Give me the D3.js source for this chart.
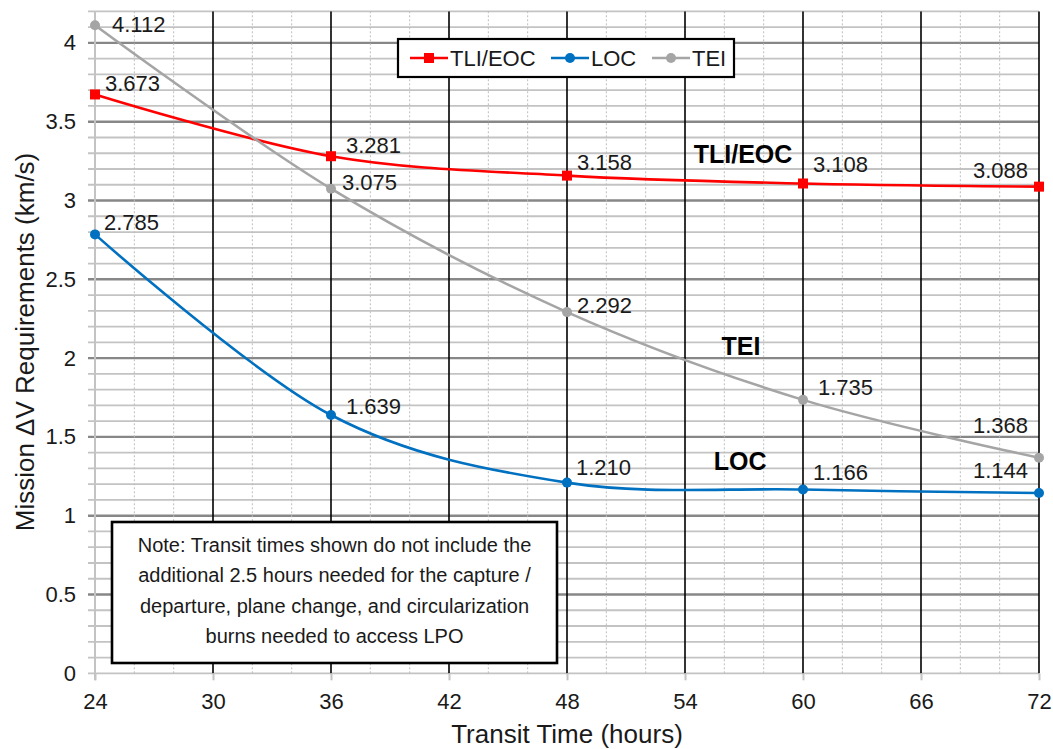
<!DOCTYPE html>
<html>
<head>
<meta charset="utf-8">
<script src="https://cdn.jsdelivr.net/npm/d3@7"></script>
<style>
  body { margin: 0; background: #fff; }
  svg { display: block; font-family: "Liberation Sans", Arial, sans-serif; }
</style>
</head>
<body>
<svg></svg>
<script>
// data
const hours = [24, 36, 48, 60, 72];
const tliEoc = [3.673, 3.281, 3.158, 3.108, 3.088];
const loc = [2.785, 1.639, 1.210, 1.166, 1.144];
const tei = [4.112, 3.075, 2.292, 1.735, 1.368];
const seriesNames = ["TLI/EOC", "LOC", "TEI"];
const xTicks = [24, 30, 36, 42, 48, 54, 60, 66, 72];
const yTicks = [0, 0.5, 1, 1.5, 2, 2.5, 3, 3.5, 4];
const noteLines = [
  "Note: Transit times shown do not include the",
  "additional 2.5 hours needed for the capture /",
  "departure, plane change, and circularization",
  "burns needed to access LPO",
];

const W = 1053, H = 749;
const margin = { top: 11.4, right: 14, bottom: 75.7, left: 95 };

const svg = d3.select("svg").attr("width", W).attr("height", H);

const x = d3.scaleLinear().domain([24, 72]).range([margin.left, W - margin.right]);
const y = d3.scaleLinear().domain([0, 4.2]).range([H - margin.bottom, margin.top]);

const color = d3.scaleOrdinal().domain(seriesNames).range(["#ff0000", "#0070c0", "#a5a5a5"]);

// gridlines
const grid = svg.append("g");
const minorY = d3.range(0, 43).map(function (i) { return i / 10; });
grid.selectAll(".hminor")
  .data(minorY.filter(function (d) { return Math.round(d * 10) % 5 !== 0 || d === 0; }))
  .enter().append("line")
  .attr("x1", x(24) - 7).attr("x2", x(72))
  .attr("y1", function (d) { return y(d); }).attr("y2", function (d) { return y(d); })
  .attr("stroke", "#c3c3c3").attr("stroke-width", 1.8);

grid.selectAll(".hmajor")
  .data(yTicks.filter(function (d) { return d > 0; }))
  .enter().append("line")
  .attr("x1", x(24) - 7).attr("x2", x(72))
  .attr("y1", function (d) { return y(d); }).attr("y2", function (d) { return y(d); })
  .attr("stroke", "#878787").attr("stroke-width", 2.4);

const minorX = d3.range(24, 73, 2).filter(function (d) { return d % 6 !== 0; });
grid.selectAll(".vminor")
  .data(minorX)
  .enter().append("line")
  .attr("x1", function (d) { return x(d); }).attr("x2", function (d) { return x(d); })
  .attr("y1", y(0)).attr("y2", y(4.2))
  .attr("stroke", "#bdbdbd").attr("stroke-width", 1)
  .attr("stroke-dasharray", "2,2");

// left axis line
grid.append("line")
  .attr("x1", x(24)).attr("x2", x(24))
  .attr("y1", y(0) + 7).attr("y2", y(4.2))
  .attr("stroke", "#c3c3c3").attr("stroke-width", 2);

grid.selectAll(".vmajor")
  .data(xTicks.filter(function (d) { return d > 24; }))
  .enter().append("line")
  .attr("x1", function (d) { return x(d); }).attr("x2", function (d) { return x(d); })
  .attr("y1", y(0)).attr("y2", y(4.2))
  .attr("stroke", "#000").attr("stroke-width", 1.6);

// axes
const xAxis = d3.axisBottom(x).tickValues(xTicks).tickSize(7).tickPadding(13).tickFormat(d3.format("d"));
const yAxis = d3.axisLeft(y).tickValues(yTicks).tickSize(7).tickPadding(12).tickFormat(d3.format(""));

const gx = svg.append("g").attr("transform", "translate(0," + y(0) + ")").call(xAxis);
const gy = svg.append("g").attr("transform", "translate(" + x(24) + ",0)").call(yAxis);

[gx, gy].forEach(function (g) {
  g.select(".domain").remove();
  g.selectAll("text").attr("fill", "#1a1a1a").style("font-size", "22px")
    .style("font-family", "'Liberation Sans', Arial, sans-serif");
});
gx.selectAll(".tick line").attr("stroke", "#c3c3c3").attr("stroke-width", 2);
gy.selectAll(".tick line").remove();

// axis titles
svg.append("text")
  .attr("x", x(48)).attr("y", 743)
  .attr("text-anchor", "middle")
  .style("font-size", "26px").attr("fill", "#1a1a1a")
  .text("Transit Time (hours)");

svg.append("text")
  .attr("transform", "translate(34,342) rotate(-90)")
  .attr("text-anchor", "middle")
  .style("font-size", "26px").attr("fill", "#1a1a1a")
  .text("Mission \u0394V Requirements (km/s)");

// series
const series = [
  { name: "TLI/EOC", values: tliEoc },
  { name: "LOC", values: loc },
  { name: "TEI", values: tei },
];

const line = d3.line()
  .x(function (d, i) { return x(hours[i]); })
  .y(function (d) { return y(d); })
  .curve(d3.curveCardinal.tension(0));

svg.selectAll(".series")
  .data(series)
  .enter().append("path")
  .attr("d", function (s) { return line(s.values); })
  .attr("fill", "none")
  .attr("stroke", function (s) { return color(s.name); })
  .attr("stroke-width", 2.6);

series.forEach(function (s) {
  const g = svg.append("g");
  if (s.name === "TLI/EOC") {
    g.selectAll("rect").data(s.values).enter().append("rect")
      .attr("x", function (d, i) { return x(hours[i]) - 5; })
      .attr("y", function (d) { return y(d) - 5; })
      .attr("width", 10).attr("height", 10)
      .attr("fill", color(s.name));
  } else {
    g.selectAll("circle").data(s.values).enter().append("circle")
      .attr("cx", function (d, i) { return x(hours[i]); })
      .attr("cy", function (d) { return y(d); })
      .attr("r", 5)
      .attr("fill", color(s.name));
  }
});

// data labels, offsets in px relative to each point
const labelOffsets = {
  "TLI/EOC": [[10, -3], [15, -3], [10, -6], [10, -11], [-11, -9]],
  "LOC": [[9, -4], [15, -1], [9, -8], [10, -10], [-11, -15]],
  "TEI": [[17, 7], [11, 1], [10, 1], [15, -5], [-11, -25]],
};

series.forEach(function (s) {
  svg.append("g").selectAll("text").data(s.values).enter().append("text")
    .attr("x", function (d, i) { return x(hours[i]) + labelOffsets[s.name][i][0]; })
    .attr("y", function (d, i) { return y(d) + labelOffsets[s.name][i][1]; })
    .attr("text-anchor", function (d, i) { return i === hours.length - 1 ? "end" : "start"; })
    .style("font-size", "22px").attr("fill", "#1a1a1a")
    .text(function (d) { return d3.format(".3f")(d); });
});

// in-chart series names
const seriesTags = [
  { name: "TLI/EOC", h: 56.95, v: 3.238 },
  { name: "TEI", h: 56.85, v: 2.02 },
  { name: "LOC", h: 56.8, v: 1.29 },
];
svg.append("g").selectAll("text").data(seriesTags).enter().append("text")
  .attr("x", function (d) { return x(d.h); })
  .attr("y", function (d) { return y(d.v); })
  .attr("text-anchor", "middle")
  .style("font-size", "25px").style("font-weight", "bold").attr("fill", "#000")
  .text(function (d) { return d.name; });

// legend
const legend = svg.append("g").attr("transform", "translate(398,39)");
legend.append("rect")
  .attr("width", 336).attr("height", 38)
  .attr("fill", "#fff").attr("stroke", "#000").attr("stroke-width", 2.2);

const legendX = [12, 153, 254];
const legendItem = legend.selectAll(".legend-item")
  .data(seriesNames)
  .enter().append("g")
  .attr("transform", function (d, i) { return "translate(" + legendX[i] + ",19)"; });

legendItem.append("line")
  .attr("x1", 0).attr("x2", 38)
  .attr("stroke", color).attr("stroke-width", 2.6);

legendItem.each(function (d) {
  const g = d3.select(this);
  if (d === "TLI/EOC") {
    g.append("rect").attr("x", 14).attr("y", -5).attr("width", 10).attr("height", 10).attr("fill", color(d));
  } else {
    g.append("circle").attr("cx", 19).attr("r", 5).attr("fill", color(d));
  }
});

legendItem.append("text")
  .attr("x", 40).attr("y", 8)
  .style("font-size", "22px").attr("fill", "#1a1a1a")
  .text(function (d) { return d; });

// note box
const note = svg.append("g").attr("transform", "translate(112,522)");
note.append("rect")
  .attr("width", 445).attr("height", 141)
  .attr("fill", "#fff").attr("stroke", "#000").attr("stroke-width", 2.6);
note.selectAll("text").data(noteLines).enter().append("text")
  .attr("x", 222.5)
  .attr("y", function (d, i) { return 30 + i * 30.3; })
  .attr("text-anchor", "middle")
  .style("font-size", "20px").attr("fill", "#1a1a1a")
  .text(function (d) { return d; });
</script>
</body>
</html>
